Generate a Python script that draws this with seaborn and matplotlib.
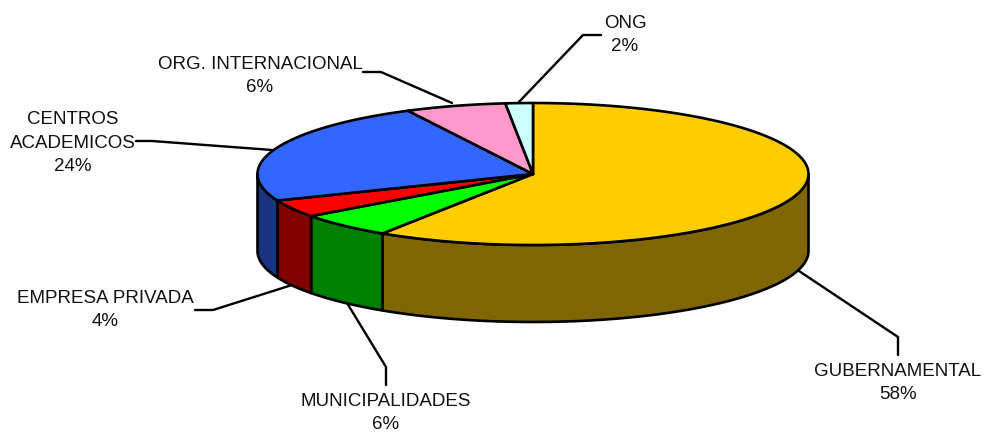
import numpy as np
import matplotlib
matplotlib.use('Agg')
import matplotlib.pyplot as plt
import seaborn as sns
from matplotlib.patches import Polygon

# pie data, going clockwise from 12 o'clock
categories = ['GUBERNAMENTAL', 'MUNICIPALIDADES', 'EMPRESA PRIVADA',
              'CENTROS\nACADEMICOS', 'ORG. INTERNACIONAL', 'ONG']
shares = [59.2, 5.7, 4.0, 23.6, 5.9, 1.6]
pct_labels = ['58%', '6%', '4%', '24%', '6%', '2%']
top_colors = ['#FFCC00', '#00FF00', '#FF0000', '#3366FF', '#FF99CC', '#CCFFFF']

sns.set_theme(style='white')
plt.rcParams['font.family'] = ['Liberation Sans', 'DejaVu Sans']

palette = sns.color_palette(top_colors)

# pie geometry in image pixels
cx, cy = 533, 174
rx, ry = 275.5, 71
depth = 77
lw = 1.9


def rim(t):
    return np.column_stack([cx + rx * np.sin(t), cy - ry * np.cos(t)])


fig, ax = plt.subplots(figsize=(9.84, 4.32), dpi=100)
fig.subplots_adjust(0, 0, 1, 1)
ax.set_xlim(0, 984)
ax.set_ylim(432, 0)
ax.axis('off')

edges = np.radians(np.concatenate([[0], np.cumsum(shares)]) / sum(shares) * 360)

# side walls first, only the front half of the rim shows
for i, color in enumerate(palette):
    a = max(edges[i], np.pi / 2)
    b = min(edges[i + 1], 3 * np.pi / 2)
    if a >= b:
        continue
    upper = rim(np.linspace(a, b, 80))
    lower = upper[::-1] + [0, depth]
    dark = tuple(c * 0.5 for c in color)
    ax.add_patch(Polygon(np.vstack([upper, lower]), closed=True, facecolor=dark,
                         edgecolor='black', lw=lw, joinstyle='round', zorder=2))

# top of the pie
for i, color in enumerate(palette):
    arc = rim(np.linspace(edges[i], edges[i + 1], 200))
    ax.add_patch(Polygon(np.vstack([[cx, cy], arc]), closed=True, facecolor=color,
                         edgecolor='black', lw=lw, joinstyle='round', zorder=3))

# leader lines
leaders = [
    [(799, 271), (898, 337), (898, 355)],
    [(347, 303), (386, 367), (386, 385)],
    [(292, 285), (213, 310), (195, 310)],
    [(272, 150), (152, 141), (136, 141)],
    [(452, 103), (381, 72), (363, 72)],
    [(518, 103), (583, 35), (601, 35)],
]
for pts in leaders:
    xs, ys = zip(*pts)
    ax.plot(xs, ys, color='black', lw=lw * 0.9, zorder=1, solid_joinstyle='miter')

# labels
label_pos = [(898, 383), (386, 413), (105, 310), (73, 143), (260, 76), (625, 35)]
for name, pct, (x, y) in zip(categories, pct_labels, label_pos):
    ax.text(x, y, name + '\n' + pct, ha='center', va='center', fontsize=13.5,
            color='#111111', linespacing=1.52)

fig.savefig('out.png', dpi=100)
